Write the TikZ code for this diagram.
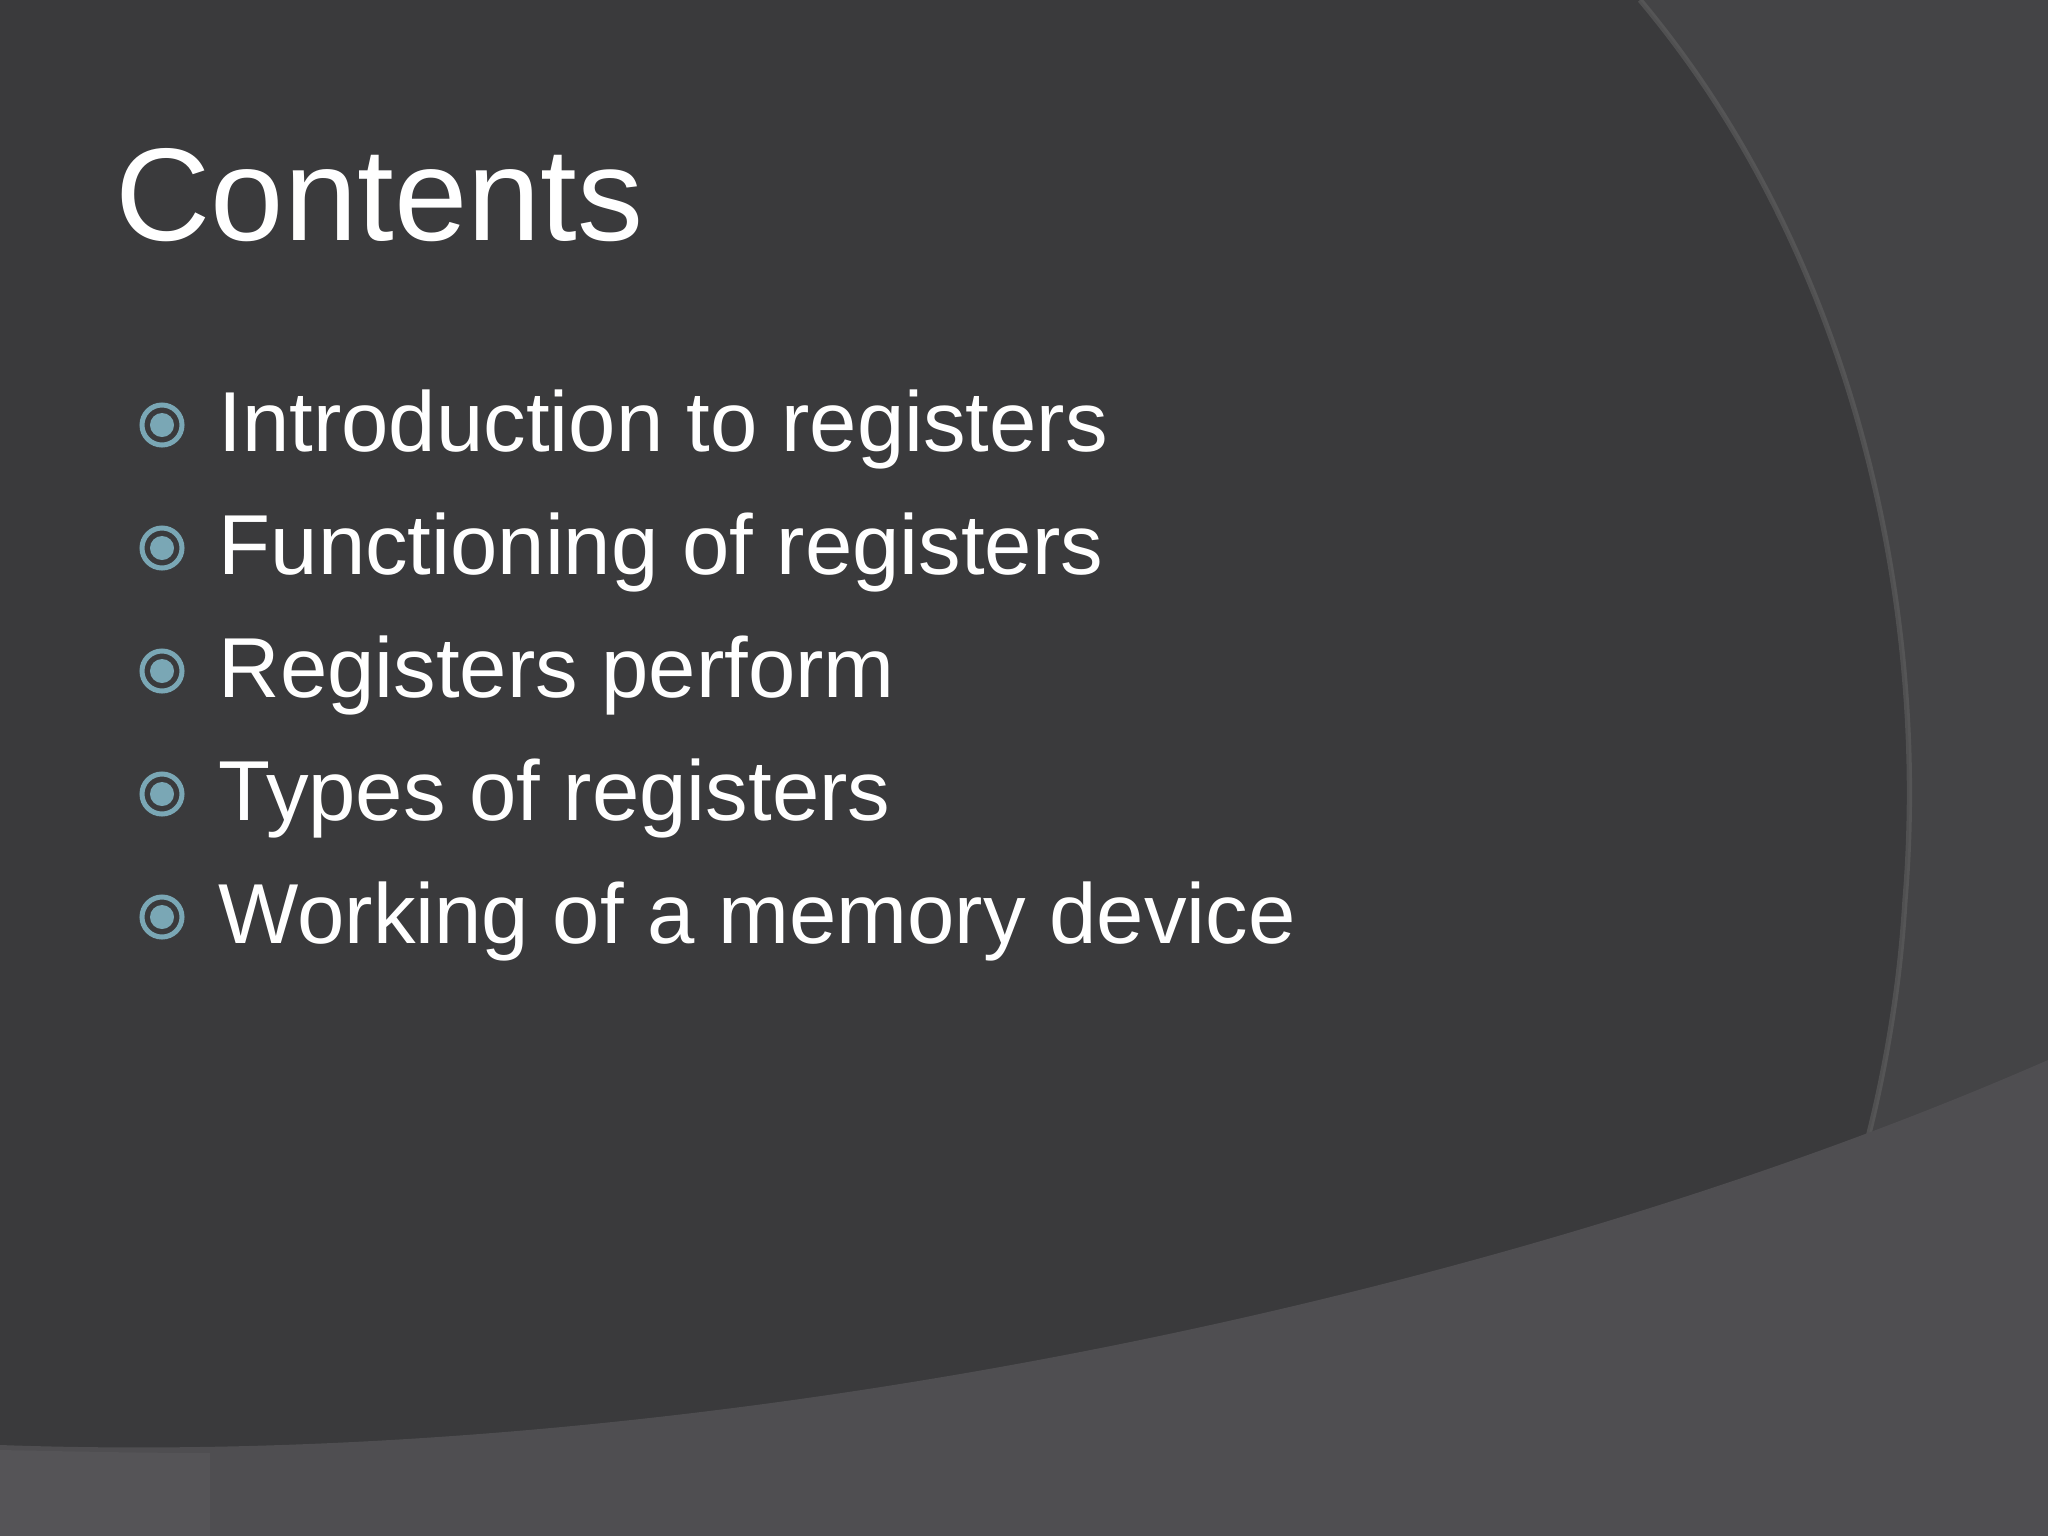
\documentclass[tikz,border=0pt]{standalone}
\usepackage{fontspec}
\setmainfont{Liberation Sans}
\definecolor{bg}{HTML}{3A3A3C}
\definecolor{bgr}{HTML}{444446}
\definecolor{wave}{HTML}{4F4E51}
\definecolor{bot}{HTML}{555457}
\definecolor{teal}{HTML}{7AA7B5}
\begin{document}
\begin{tikzpicture}[x=0.01cm,y=-0.01cm,
  item/.style={anchor=base west,text=white,font=\fontsize{24.2}{28}\selectfont,inner sep=0},
  bul/.style={circle,draw=teal,line width=0.05cm,minimum size=0.4cm,inner sep=0}]
\useasboundingbox (0,0) rectangle (2048,1536);
\fill[bg] (0,0) rectangle (2048,1536);
\fill[bgr] (1640,0) .. controls (1850,250) and (1930,600) .. (1905,900) .. controls (1890,1150) and (1800,1380) .. (1690,1536) -- (2048,1536) -- (2048,0) -- cycle;
\draw[black!60,opacity=0.5,line width=1.5pt] (1640,0) .. controls (1850,250) and (1930,600) .. (1905,900) .. controls (1890,1150) and (1800,1380) .. (1690,1536);
\fill[wave] (0,1445) .. controls (700,1470) and (1500,1300) .. (2048,1060) -- (2048,1536) -- (0,1536) -- cycle;
\fill[bot] (0,1450) .. controls (100,1452) and (150,1453) .. (210,1453) -- (210,1536) -- (0,1536) -- cycle;
\node[anchor=base west,text=white,font=\fontsize{37.5}{42}\selectfont,inner sep=0] (title) at (115,240) {Contents};
\foreach \t [count=\i] in {Introduction to registers,Functioning of registers,Registers perform,Types of registers,Working of a memory device}{
  \node[bul] (b\i) at (162,302+123*\i) {};
  \fill[teal] (b\i) circle (0.12cm);
  \node[item] (t\i) at (218,302+123*\i+26) {\t};
}
\end{tikzpicture}
\end{document}
